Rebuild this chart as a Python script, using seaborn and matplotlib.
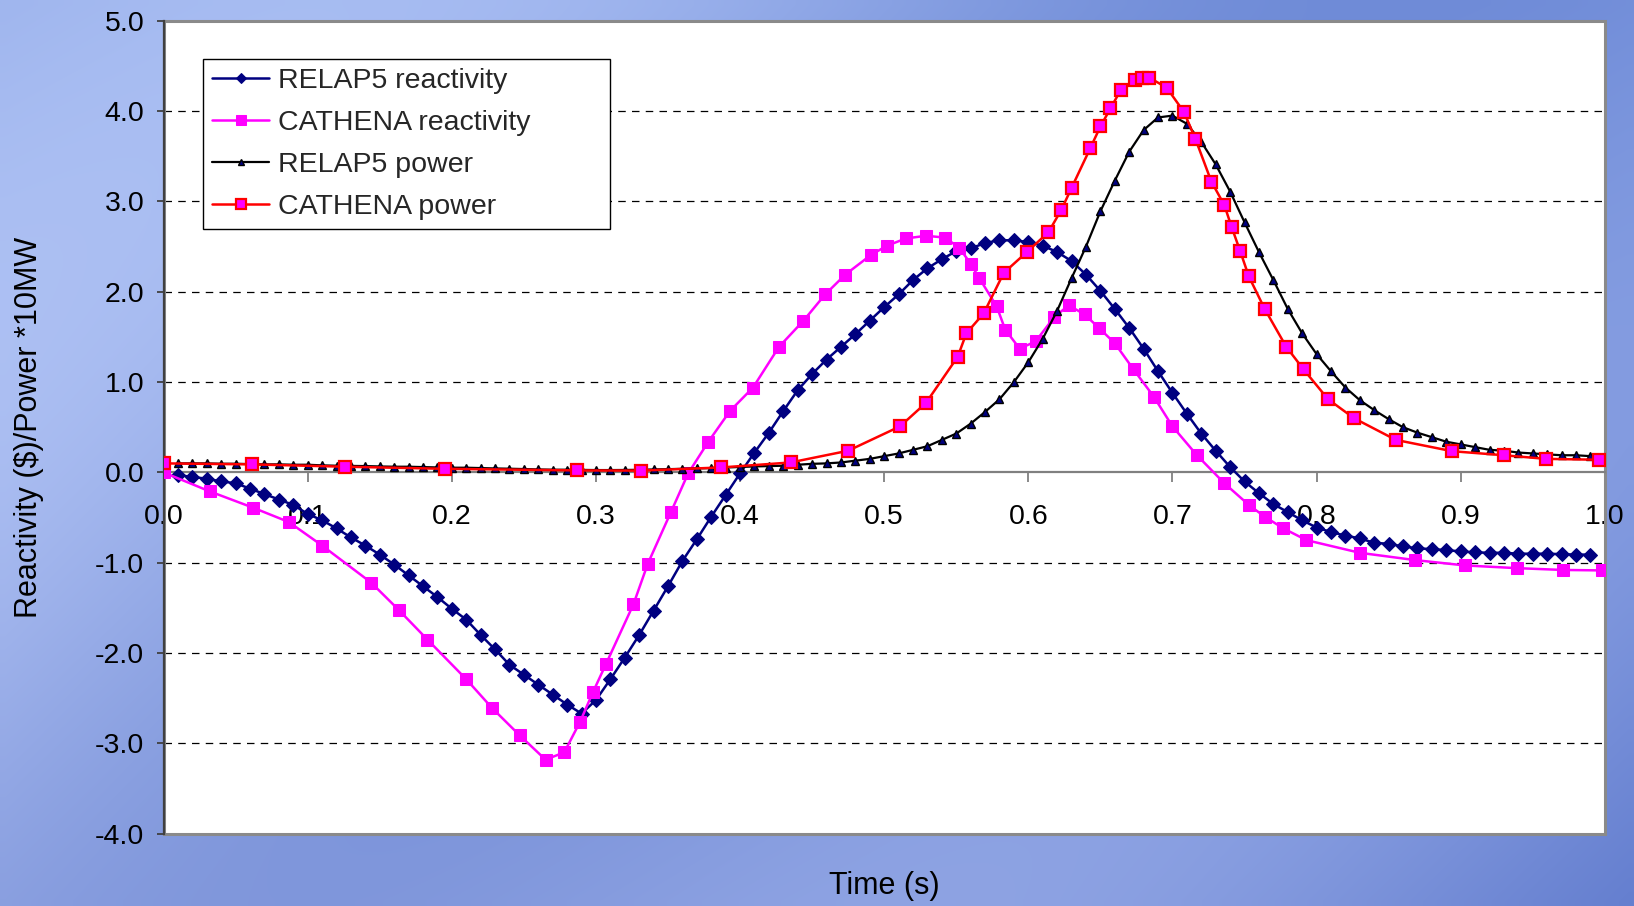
import numpy as np
import matplotlib
matplotlib.use("Agg")
import matplotlib.pyplot as plt
import seaborn as sns
from matplotlib.patches import Rectangle
from matplotlib.ticker import FormatStrFormatter

# ---------------- data ----------------
t_relap = [0.01, 0.02, 0.03, 0.04, 0.05, 0.06, 0.07, 0.08, 0.09, 0.10,
           0.11, 0.12, 0.13, 0.14, 0.15, 0.16, 0.17, 0.18, 0.19, 0.20,
           0.21, 0.22, 0.23, 0.24, 0.25, 0.26, 0.27, 0.28, 0.29, 0.30,
           0.31, 0.32, 0.33, 0.34, 0.35, 0.36, 0.37, 0.38, 0.39, 0.40,
           0.41, 0.42, 0.43, 0.44, 0.45, 0.46, 0.47, 0.48, 0.49, 0.50,
           0.51, 0.52, 0.53, 0.54, 0.55, 0.56, 0.57, 0.58, 0.59, 0.60,
           0.61, 0.62, 0.63, 0.64, 0.65, 0.66, 0.67, 0.68, 0.69, 0.70,
           0.71, 0.72, 0.73, 0.74, 0.75, 0.76, 0.77, 0.78, 0.79, 0.80,
           0.81, 0.82, 0.83, 0.84, 0.85, 0.86, 0.87, 0.88, 0.89, 0.90,
           0.91, 0.92, 0.93, 0.94, 0.95, 0.96, 0.97, 0.98, 0.99]

relap_reactivity = [-0.03, -0.05, -0.07, -0.10, -0.12, -0.18, -0.24, -0.30, -0.36, -0.46,
                    -0.53, -0.62, -0.72, -0.81, -0.91, -1.02, -1.14, -1.26, -1.38, -1.51,
                    -1.63, -1.80, -1.96, -2.13, -2.24, -2.35, -2.46, -2.57, -2.67, -2.52,
                    -2.29, -2.05, -1.80, -1.53, -1.26, -0.98, -0.74, -0.49, -0.25, -0.01,
                    0.22, 0.44, 0.68, 0.91, 1.09, 1.25, 1.39, 1.53, 1.68, 1.83,
                    1.97, 2.13, 2.26, 2.36, 2.45, 2.48, 2.54, 2.57, 2.57, 2.55,
                    2.51, 2.44, 2.34, 2.19, 2.01, 1.81, 1.60, 1.37, 1.12, 0.88,
                    0.65, 0.43, 0.24, 0.06, -0.10, -0.23, -0.35, -0.44, -0.53, -0.61,
                    -0.66, -0.70, -0.73, -0.78, -0.79, -0.82, -0.84, -0.85, -0.86, -0.875,
                    -0.885, -0.89, -0.89, -0.90, -0.90, -0.90, -0.905, -0.91, -0.91]

relap_power = [0.100, 0.100, 0.100, 0.096, 0.096, 0.092, 0.089, 0.089, 0.085, 0.085,
               0.078, 0.074, 0.072, 0.070, 0.066, 0.063, 0.063, 0.059, 0.055, 0.052,
               0.052, 0.048, 0.044, 0.041, 0.037, 0.033, 0.030, 0.030, 0.028, 0.026,
               0.026, 0.027, 0.029, 0.033, 0.036, 0.040, 0.044, 0.048, 0.054, 0.060,
               0.066, 0.070, 0.074, 0.085, 0.095, 0.100, 0.110, 0.130, 0.150, 0.180,
               0.210, 0.250, 0.290, 0.360, 0.430, 0.540, 0.670, 0.810, 1.000, 1.220,
               1.480, 1.790, 2.150, 2.500, 2.890, 3.230, 3.550, 3.790, 3.930, 3.950,
               3.860, 3.660, 3.410, 3.110, 2.770, 2.440, 2.130, 1.810, 1.540, 1.310,
               1.120, 0.940, 0.800, 0.690, 0.590, 0.500, 0.440, 0.390, 0.340, 0.310,
               0.280, 0.250, 0.240, 0.220, 0.210, 0.200, 0.190, 0.190, 0.180]

t_cathena_react = [0.0, 0.032, 0.062, 0.087, 0.110, 0.144, 0.163, 0.183, 0.210, 0.228,
                   0.247, 0.265, 0.278, 0.289, 0.298, 0.307, 0.326, 0.336, 0.352, 0.364,
                   0.378, 0.393, 0.409, 0.427, 0.444, 0.459, 0.473, 0.491, 0.502, 0.515,
                   0.529, 0.542, 0.552, 0.560, 0.566, 0.578, 0.584, 0.594, 0.605, 0.618,
                   0.628, 0.639, 0.649, 0.660, 0.673, 0.687, 0.700, 0.717, 0.736, 0.753,
                   0.764, 0.777, 0.793, 0.830, 0.868, 0.903, 0.939, 0.971, 0.998]
cathena_reactivity = [0.0, -0.21, -0.39, -0.55, -0.81, -1.22, -1.52, -1.85, -2.29, -2.61,
                      -2.91, -3.18, -3.10, -2.76, -2.43, -2.12, -1.46, -1.01, -0.44, -0.01,
                      0.34, 0.68, 0.94, 1.39, 1.68, 1.97, 2.19, 2.41, 2.51, 2.59,
                      2.62, 2.60, 2.49, 2.31, 2.15, 1.84, 1.58, 1.37, 1.45, 1.72,
                      1.85, 1.75, 1.60, 1.43, 1.14, 0.84, 0.51, 0.19, -0.12, -0.36,
                      -0.49, -0.62, -0.75, -0.89, -0.97, -1.03, -1.06, -1.08, -1.085]

t_cathena_power = [0.0, 0.061, 0.126, 0.195, 0.287, 0.331, 0.387, 0.435, 0.475, 0.511,
                   0.529, 0.551, 0.557, 0.569, 0.583, 0.599, 0.614, 0.623, 0.630, 0.643,
                   0.650, 0.657, 0.664, 0.674, 0.679, 0.684, 0.696, 0.708, 0.716, 0.727,
                   0.736, 0.741, 0.747, 0.753, 0.764, 0.779, 0.791, 0.808, 0.826, 0.855,
                   0.894, 0.930, 0.959, 0.996]
cathena_power = [0.100, 0.089, 0.063, 0.040, 0.022, 0.020, 0.055, 0.110, 0.240, 0.510,
                 0.770, 1.280, 1.540, 1.760, 2.210, 2.440, 2.660, 2.910, 3.150, 3.590,
                 3.830, 4.030, 4.230, 4.350, 4.370, 4.370, 4.260, 3.990, 3.690, 3.220,
                 2.960, 2.720, 2.450, 2.170, 1.810, 1.390, 1.140, 0.810, 0.600, 0.360,
                 0.235, 0.190, 0.150, 0.140]

x_ticks = [0.0, 0.1, 0.2, 0.3, 0.4, 0.5, 0.6, 0.7, 0.8, 0.9, 1.0]
y_ticks = [-4.0, -3.0, -2.0, -1.0, 0.0, 1.0, 2.0, 3.0, 4.0, 5.0]
grid_levels = [-3.0, -2.0, -1.0, 1.0, 2.0, 3.0, 4.0]

# ---------------- style ----------------
sns.set_theme(style="white")
plt.rcParams["font.family"] = ["Liberation Sans", "DejaVu Sans"]
plt.rcParams["axes.unicode_minus"] = False

W, H = 1634, 906
fig = plt.figure(figsize=(W / 100, H / 100), dpi=100)

# decorative blue photographic-like background
bg = fig.add_axes([0, 0, 1, 1], zorder=-10)
yy, xx = np.mgrid[0:1:90j, 0:1:160j]
wave = np.sin(6 * xx + 4 * yy)
r = 160 - 40 * xx - 10 * yy + 16 * wave
g = 182 - 35 * xx - 12 * yy + 14 * wave
b = 238 - 18 * xx - 8 * yy + 8 * wave
img = np.clip(np.dstack([r, g, b]) / 255.0, 0, 1)
bg.imshow(img, aspect="auto", interpolation="bilinear", extent=[0, 1, 0, 1])
bg.set_axis_off()

ax = fig.add_axes([163.6 / W, 1 - 833.7 / H, 1441.2 / W, 812.9 / H])
ax.set_facecolor("white")

sns.lineplot(x=t_relap, y=relap_reactivity, ax=ax, color="#000080", linewidth=1.8,
             marker="D", markersize=7, markerfacecolor="#000080", markeredgecolor="#000080",
             label="RELAP5 reactivity", estimator=None, sort=False, zorder=3)
sns.lineplot(x=t_cathena_react, y=cathena_reactivity, ax=ax, color="#FF00FF", linewidth=1.8,
             marker="s", markersize=9, markerfacecolor="#FF00FF", markeredgecolor="#FF00FF",
             label="CATHENA reactivity", estimator=None, sort=False, zorder=4)
sns.lineplot(x=t_relap, y=relap_power, ax=ax, color="black", linewidth=1.6,
             marker="^", markersize=6, markerfacecolor="#000080", markeredgecolor="black",
             markeredgewidth=1.0,
             label="RELAP5 power", estimator=None, sort=False, zorder=5)
sns.lineplot(x=t_cathena_power, y=cathena_power, ax=ax, color="#FF0000", linewidth=1.8,
             marker="s", markersize=9, markerfacecolor="#FF00FF", markeredgecolor="#FF0000",
             markeredgewidth=1.6,
             label="CATHENA power", estimator=None, sort=False, zorder=6)

ax.set_xlim(0, 1)
ax.set_ylim(-4, 5)
ax.set_xticks(x_ticks)
ax.set_yticks(y_ticks)
ax.xaxis.set_major_formatter(FormatStrFormatter("%.1f"))
ax.yaxis.set_major_formatter(FormatStrFormatter("%.1f"))
ax.set_xlabel("")
ax.set_ylabel("")

# dashed horizontal gridlines
ax.grid(False)
for lv in grid_levels:
    ax.axhline(lv, color="black", linestyle=(0, (6, 5)), linewidth=0.9, zorder=1)

# axes: x-axis crosses at 0
for s in ["top", "right"]:
    ax.spines[s].set_visible(False)
ax.spines["bottom"].set_position(("data", 0))
ax.spines["bottom"].set_color("#808080")
ax.spines["bottom"].set_linewidth(1.6)
ax.spines["bottom"].set_zorder(1.5)
ax.spines["left"].set_color("#404040")
ax.spines["left"].set_linewidth(1.6)
ax.add_patch(Rectangle((0, 0), 1, 1, transform=ax.transAxes, fill=False,
                       edgecolor="#8a8a8a", linewidth=2.2, zorder=1.2, clip_on=False))

ax.tick_params(axis="x", bottom=True, direction="out", length=7, width=1.3,
               color="#808080", pad=16, labelsize=20.5, labelcolor="black")
ax.tick_params(axis="y", left=True, direction="out", length=5, width=1.3,
               color="#404040", pad=9, labelsize=20.5, labelcolor="black")

leg_w = (610 - 203) / 1441.2
leg = ax.legend(loc="upper left", bbox_to_anchor=(0.0273, 0.753, leg_w, 0.2),
                mode="expand", borderaxespad=0,
                frameon=True, fancybox=False, edgecolor="black", framealpha=1,
                fontsize=20.5, handlelength=2.0, labelspacing=0.56, borderpad=0.32,
                handletextpad=0.3, markerscale=0.8)
leg.get_frame().set_linewidth(1.0)
leg.set_zorder(10)

fig.text(884 / W, 1 - 886 / H, "Time (s)", ha="center", va="center", fontsize=22, color="black")
fig.text(29 / W, 1 - 427 / H, r"Reactivity (\$)/Power *10MW", ha="center", va="center",
         rotation=90, fontsize=22, color="black")

fig.savefig("out.png", dpi=100)
